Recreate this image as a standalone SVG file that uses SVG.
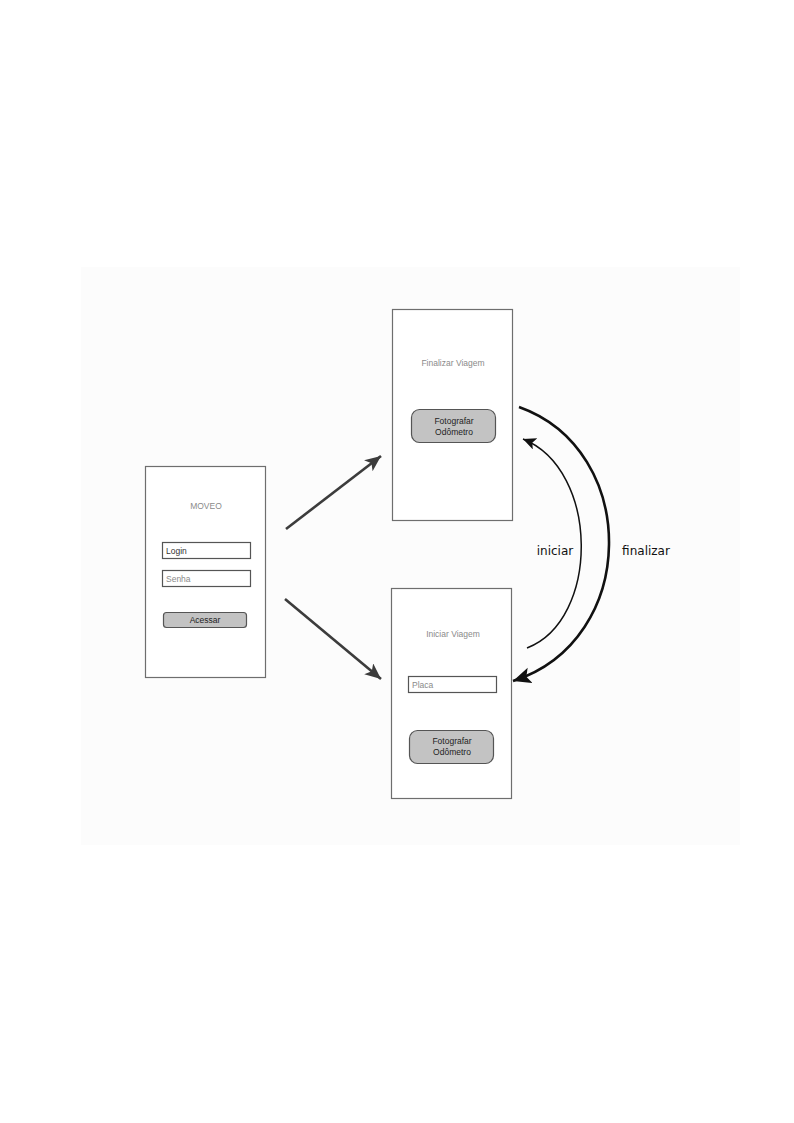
<svg xmlns="http://www.w3.org/2000/svg" width="794" height="1123" viewBox="0 0 794 1123">
<defs>
<style>
.screen{fill:#ffffff;stroke:#6e6e6e;stroke-width:1.2}
.field{fill:#ffffff;stroke:#555555;stroke-width:1.2}
.btn{fill:#c3c3c3;stroke:#555555;stroke-width:1.2}
.title{font-family:"Liberation Sans",Arial,sans-serif;font-size:8.5px;fill:#8a8a8a;text-anchor:middle}
.ftxt{font-family:"Liberation Sans",Arial,sans-serif;font-size:8.5px}
.btxt{font-family:"Liberation Sans",Arial,sans-serif;font-size:8.5px;fill:#222222;text-anchor:middle}
.lbl{font-family:"DejaVu Sans",sans-serif;font-size:12px;fill:#111111;text-anchor:middle}
.straight{fill:none;stroke:#3c3c3c;stroke-width:2.6}
.curve{fill:none;stroke:#111111}
</style>
<marker id="ahS" markerUnits="userSpaceOnUse" markerWidth="18" markerHeight="16" refX="16" refY="7" orient="auto">
<path d="M0,0 L16,7 L0,14 L4,7 z" fill="#3c3c3c"/>
</marker>
<marker id="ahThick" markerUnits="userSpaceOnUse" markerWidth="20" markerHeight="18" refX="18" refY="8" orient="auto">
<path d="M0,0 L18,8 L0,16 L4,8 z" fill="#111111"/>
</marker>
<marker id="ahThin" markerUnits="userSpaceOnUse" markerWidth="16" markerHeight="14" refX="13" refY="6" orient="auto">
<path d="M0,0 L13,6 L0,12 L3,6 z" fill="#111111"/>
</marker>
</defs>
<rect x="0" y="0" width="794" height="1123" fill="#ffffff"/>
<rect x="81" y="267" width="659" height="578" fill="#fcfcfc"/>

<g id="login-screen">
<rect class="screen" x="145.5" y="466.5" width="120" height="211"/>
<text class="title" x="206" y="509">MOVEO</text>
<rect class="field" x="162.5" y="542.5" width="88" height="16"/>
<text class="ftxt" x="166" y="553.5" fill="#333333">Login</text>
<rect class="field" x="162.5" y="570.5" width="88" height="16"/>
<text class="ftxt" x="166" y="581.5" fill="#8a8a8a">Senha</text>
<rect class="btn" x="163.5" y="612.5" width="83" height="15" rx="3"/>
<text class="btxt" x="205" y="623">Acessar</text>
</g>

<g id="finalizar-screen">
<rect class="screen" x="392.5" y="309.5" width="120" height="211"/>
<text class="title" x="453" y="366">Finalizar  Viagem</text>
<rect class="btn" x="411.5" y="409.5" width="84" height="33" rx="8"/>
<text class="btxt" x="454" y="423.5">Fotografar</text>
<text class="btxt" x="454" y="434.5">Odômetro</text>
</g>

<g id="iniciar-screen">
<rect class="screen" x="391.5" y="588.5" width="120" height="210"/>
<text class="title" x="453" y="637">Iniciar  Viagem</text>
<rect class="field" x="408.5" y="676.5" width="88" height="16"/>
<text class="ftxt" x="412" y="687.5" fill="#8a8a8a">Placa</text>
<rect class="btn" x="409.5" y="730.5" width="84" height="33" rx="8"/>
<text class="btxt" x="452" y="744">Fotografar</text>
<text class="btxt" x="452" y="755">Odômetro</text>
</g>

<g id="connectors">
<path class="straight" d="M286,529 L381,456" marker-end="url(#ahS)"/>
<path class="straight" d="M285,599 L381,679" marker-end="url(#ahS)"/>
<path class="curve" stroke-width="2.6" d="M519,407 C640,450 640,640 513,681" marker-end="url(#ahThick)"/>
<path class="curve" stroke-width="1.5" d="M527,648 C600,620 600,470 523,439" marker-end="url(#ahThin)"/>
<text class="lbl" x="555" y="555">iniciar</text>
<text class="lbl" x="646" y="555">finalizar</text>
</g>
</svg>
